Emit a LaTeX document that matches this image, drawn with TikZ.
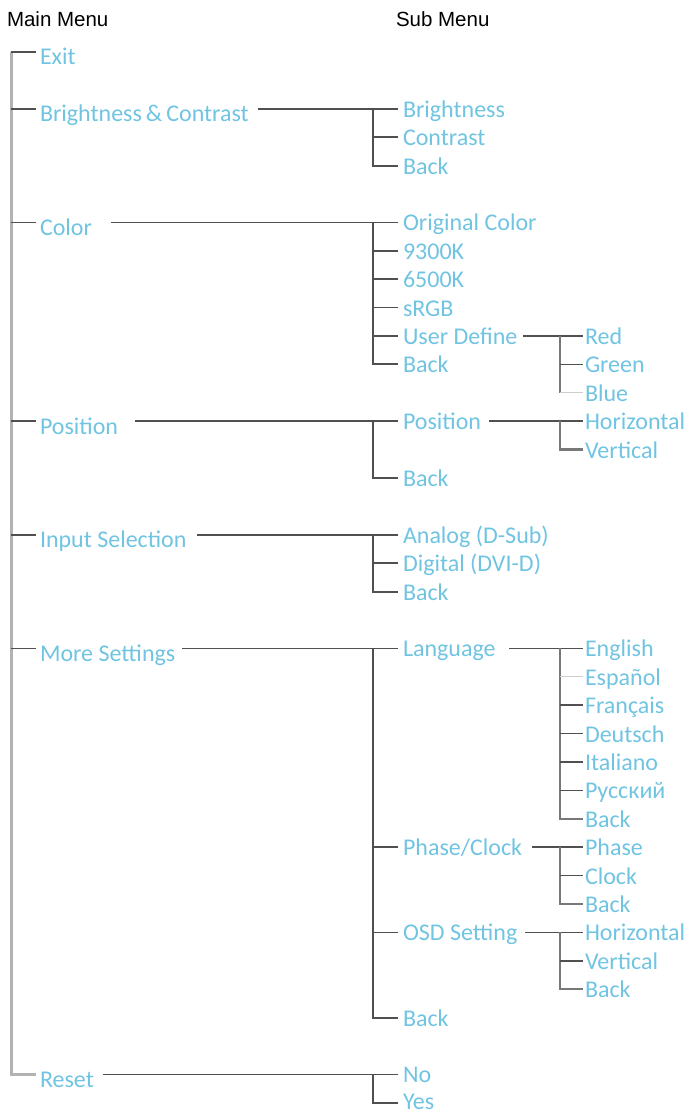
\documentclass[tikz,border=0pt]{standalone}
\usepackage{fontspec}
\newfontfamily\itemfont{Carlito}
\newfontfamily\headfont{Liberation Sans}
\definecolor{menublue}{RGB}{112,196,226}
\definecolor{lndark}{RGB}{80,80,80}
\definecolor{lnmid}{RGB}{120,120,120}
\definecolor{lnlight}{RGB}{178,178,178}
\definecolor{lnfaint}{RGB}{205,205,205}
\newcommand{\RY}[1]{(52+28.40*(#1))}
% main item: name, row, text
\newcommand{\topitem}[3]{%
  \coordinate (#1-j) at (11,{\RY{#2}});
  \coordinate (#1-t) at (36,{\RY{#2}});
  \node[item] (#1) at (40,{\RY{#2}+13}) {#3};}
% second-level item: name, row, text, junction x, baseline offset
\newcommand{\menuitem}[5][8.5]{%
  \coordinate (#2-j) at (#5,{\RY{#3}});
  \coordinate (#2-t) at ({#5+25},{\RY{#3}});
  \node[item] (#2) at ({#5+30},{\RY{#3}+#1}) {#4};}
% third-level item: name, row, text, junction x
\newcommand{\leafitem}[4]{%
  \coordinate (#1-j) at (#4,{\RY{#2}});
  \coordinate (#1-t) at ({#4+23},{\RY{#2}});
  \node[item] (#1) at ({#4+25},{\RY{#2}+8.5}) {#3};}
\begin{document}
\begin{tikzpicture}[x=1pt,y=-1pt,
  item/.style={anchor=base west, inner sep=0pt, outer sep=0pt, text=menublue,
    font={\itemfont\fontsize{24}{28}\selectfont}},
  head/.style={anchor=base west, inner sep=0pt, outer sep=0pt,
    font={\headfont\fontsize{20.5}{24}\selectfont}},
  trunk/.style={draw=lnlight, line width=3pt},
  branch/.style={draw=lndark, line width=1.5pt},
  subvert/.style={draw=lndark, line width=2pt, line join=miter},
  thirdvert/.style={draw=lnmid, line width=2.4pt, line join=miter},
  faint/.style={draw=lnfaint, line width=1pt}]
\useasboundingbox (0,0) rectangle (690,1113);

% headings
\node[head] (hmain) at (7,27) {Main Menu};
\node[head] (hsub) at (396,27) {Sub Menu};

% main menu
\topitem{exit}{0}{Exit}
\topitem{bc}{2}{Brightness\,\&\,Contrast}
\topitem{color}{6}{Color}
\topitem{pos}{13}{Position}
\topitem{input}{17}{Input Selection}
\topitem{more}{21}{More Settings}
\topitem{reset}{36}{Reset}
\draw[trunk, line join=miter] (exit-j) -- (reset-j) -- (reset-t);
\foreach \n in {exit,bc,color,pos,input,more}{\draw[branch] (\n-j) -- (\n-t);}

% Brightness & Contrast
\menuitem{bright}{2}{Brightness}{373}
\menuitem{contr}{3}{Contrast}{373}
\menuitem{bcback}{4}{Back}{373}
\coordinate (bc-s) at (258,{\RY{2}});
\draw[branch] (bc-s) -- (bright-t);
\draw[subvert] (bright-j) -- (bcback-j) -- (bcback-t);
\draw[branch] (contr-j) -- (contr-t);

% Color
\menuitem{orig}{6}{Original Color}{373}
\menuitem{k93}{7}{9300K}{373}
\menuitem{k65}{8}{6500K}{373}
\menuitem{srgb}{9}{sRGB}{373}
\menuitem{user}{10}{User Define}{373}
\menuitem{colback}{11}{Back}{373}
\coordinate (color-s) at (111,{\RY{6}});
\draw[branch] (color-s) -- (orig-t);
\draw[subvert] (orig-j) -- (colback-j) -- (colback-t);
\foreach \n in {k93,k65,srgb,user}{\draw[branch] (\n-j) -- (\n-t);}
% User Define
\leafitem{red}{10}{Red}{560}
\leafitem{green}{11}{Green}{560}
\leafitem{blue}{12}{Blue}{560}
\coordinate (user-s) at (523,{\RY{10}});
\draw[branch] (user-s) -- (red-t);
\draw[thirdvert] (red-j) -- (blue-j);
\draw[branch] (green-j) -- (green-t);
\draw[faint] (blue-j) -- (blue-t);

% Position
\menuitem{spos}{13}{Position}{373}
\menuitem{posback}{15}{Back}{373}
\coordinate (pos-s) at (135,{\RY{13}});
\draw[branch] (pos-s) -- (spos-t);
\draw[subvert] (spos-j) -- (posback-j) -- (posback-t);
\leafitem{phor}{13}{Horizontal}{560}
\leafitem{pver}{14}{Vertical}{560}
\coordinate (spos-s) at (489,{\RY{13}});
\draw[branch] (spos-s) -- (phor-t);
\draw[thirdvert] (phor-j) -- (pver-j) -- (pver-t);

% Input Selection
\menuitem{analog}{17}{Analog (D-Sub)}{373}
\menuitem{digital}{18}{Digital (DVI-D)}{373}
\menuitem{inback}{19}{Back}{373}
\coordinate (input-s) at (197,{\RY{17}});
\draw[branch] (input-s) -- (analog-t);
\draw[subvert] (analog-j) -- (inback-j) -- (inback-t);
\draw[branch] (digital-j) -- (digital-t);

% More Settings
\menuitem{lang}{21}{Language}{373}
\menuitem{phase}{28}{Phase/Clock}{373}
\menuitem{osd}{31}{OSD Setting}{373}
\menuitem{moreback}{34}{Back}{373}
\coordinate (more-s) at (182,{\RY{21}});
\draw[branch] (more-s) -- (lang-t);
\draw[subvert] (lang-j) -- (moreback-j) -- (moreback-t);
\draw[branch] (phase-j) -- (phase-t);
\draw[branch] (osd-j) -- (osd-t);
% Language
\leafitem{en}{21}{English}{560}
\leafitem{es}{22}{Español}{560}
\leafitem{fr}{23}{Français}{560}
\leafitem{de}{24}{Deutsch}{560}
\leafitem{it}{25}{Italiano}{560}
\leafitem{ru}{26}{Русский}{560}
\leafitem{langback}{27}{Back}{560}
\coordinate (lang-s) at (509,{\RY{21}});
\draw[branch] (lang-s) -- (en-t);
\draw[thirdvert] (en-j) -- (langback-j) -- (langback-t);
\draw[faint] (es-j) -- (es-t);
\foreach \n in {fr,de,it,ru}{\draw[branch] (\n-j) -- (\n-t);}
% Phase/Clock
\leafitem{ph}{28}{Phase}{560}
\leafitem{clk}{29}{Clock}{560}
\leafitem{phback}{30}{Back}{560}
\coordinate (phase-s) at (532,{\RY{28}});
\draw[branch] (phase-s) -- (ph-t);
\draw[thirdvert] (ph-j) -- (phback-j) -- (phback-t);
\draw[branch] (clk-j) -- (clk-t);
% OSD Setting
\leafitem{ohor}{31}{Horizontal}{560}
\leafitem{over}{32}{Vertical}{560}
\leafitem{oback}{33}{Back}{560}
\coordinate (osd-s) at (525,{\RY{31}});
\draw[branch] (osd-s) -- (ohor-t);
\draw[thirdvert] (ohor-j) -- (oback-j) -- (oback-t);
\draw[branch] (over-j) -- (over-t);

% Reset
\menuitem{no}{36}{No}{373}
\menuitem[6.5]{yes}{37}{Yes}{373}
\coordinate (reset-s) at (103,{\RY{36}});
\draw[branch] (reset-s) -- (no-t);
\draw[subvert] (no-j) -- (yes-j) -- (yes-t);
\end{tikzpicture}
\end{document}
